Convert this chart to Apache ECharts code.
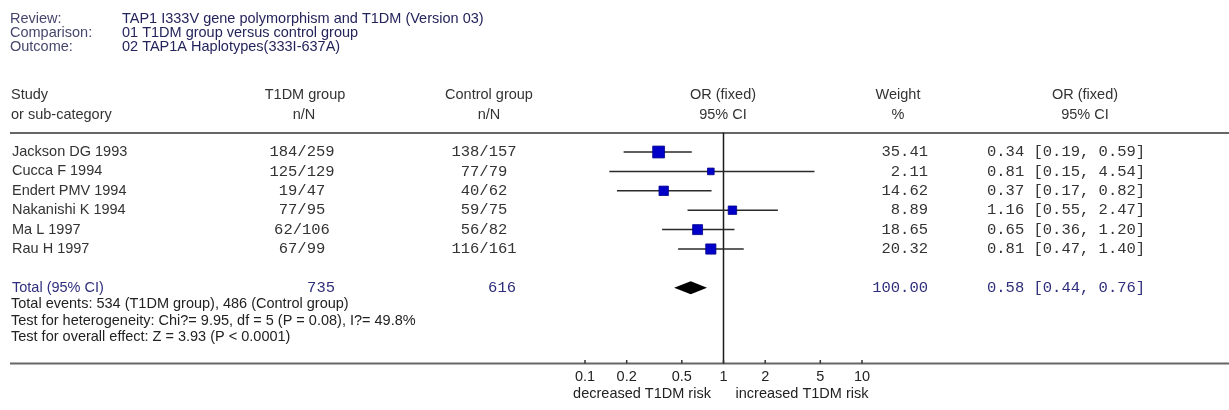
<!DOCTYPE html>
<html>
<head>
<meta charset="utf-8">
<script src="https://cdn.jsdelivr.net/npm/echarts@6/dist/echarts.min.js"></script>
<style>
  html, body { margin: 0; padding: 0; background: #fff; }
  #chart { width: 1229px; height: 410px; }
</style>
</head>
<body>
<div id="chart"></div>
<script>
// Study-level data
const studies = ['Jackson DG 1993', 'Cucca F 1994', 'Endert PMV 1994', 'Nakanishi K 1994', 'Ma L 1997', 'Rau H 1997'];
const t1dmNN = ['184/259', '125/129', '19/47', '77/95', '62/106', '67/99'];
const controlNN = ['138/157', '77/79', '40/62', '59/75', '56/82', '116/161'];
const weights = [35.41, 2.11, 14.62, 8.89, 18.65, 20.32];
const oddsRatio = [0.34, 0.81, 0.37, 1.16, 0.65, 0.81];
const ciLow = [0.19, 0.15, 0.17, 0.55, 0.36, 0.47];
const ciHigh = [0.59, 4.54, 0.82, 2.47, 1.20, 1.40];

// Pooled (fixed effect) result
const pooledOR = 0.58;
const pooledLow = 0.44;
const pooledHigh = 0.76;
const totalT1DM = 735;
const totalControl = 616;
const totalWeight = 100;

// Log-axis tick labels
const axisTicks = [0.1, 0.2, 0.5, 1, 2, 5, 10];

const SANS = '"Liberation Sans", Arial, sans-serif';
const MONO = '"Liberation Mono", "Courier New", monospace';
const SANS_SIZE = 14.5;
const MONO_SIZE = 15.5;
const TEXT = '#333';
const NAVY = '#2e2e7c';

const TOTAL_ROW = 7;
const Y_MIN = -1;
const Y_MAX = 10.9;

function txt(x, y, text, align, family, size, fill) {
  return {
    type: 'text',
    style: {
      text: text, x: x, y: y, align: align, verticalAlign: 'middle',
      fontFamily: family, fontSize: size, fill: fill
    }
  };
}

function fmtCI(or, lo, hi) {
  return or.toFixed(2) + ' [' + lo.toFixed(2) + ', ' + hi.toFixed(2) + ']';
}

const chart = echarts.init(document.getElementById('chart'), null, { renderer: 'canvas' });

const option = {
  animation: false,
  backgroundColor: '#fff',
  grid: { left: 585, width: 277, top: 132.6, height: 230.9 },
  xAxis: { type: 'log', logBase: 10, min: 0.1, max: 10, show: false },
  yAxis: { type: 'value', min: Y_MIN, max: Y_MAX, inverse: true, show: false },
  series: [
    // table text for each study row
    {
      type: 'custom',
      data: studies.map((s, i) => [1, i]),
      encode: { x: 0, y: 1 },
      silent: true,
      renderItem: function (params, api) {
        const i = params.dataIndex;
        const y = api.coord([1, api.value(1)])[1];
        return {
          type: 'group',
          children: [
            txt(12, y, studies[i], 'left', SANS, SANS_SIZE, TEXT),
            txt(302, y, t1dmNN[i], 'center', MONO, MONO_SIZE, TEXT),
            txt(484, y, controlNN[i], 'center', MONO, MONO_SIZE, TEXT),
            txt(928, y, weights[i].toFixed(2), 'right', MONO, MONO_SIZE, TEXT),
            txt(987, y, fmtCI(oddsRatio[i], ciLow[i], ciHigh[i]), 'left', MONO, MONO_SIZE, TEXT)
          ]
        };
      }
    },
    // total row text
    {
      type: 'custom',
      data: [[1, TOTAL_ROW]],
      encode: { x: 0, y: 1 },
      silent: true,
      renderItem: function (params, api) {
        const y = api.coord([1, api.value(1)])[1];
        return {
          type: 'group',
          children: [
            txt(12, y, 'Total (95% CI)', 'left', SANS, SANS_SIZE, NAVY),
            txt(335, y, String(totalT1DM), 'right', MONO, MONO_SIZE, NAVY),
            txt(516, y, String(totalControl), 'right', MONO, MONO_SIZE, NAVY),
            txt(928, y, totalWeight.toFixed(2), 'right', MONO, MONO_SIZE, NAVY),
            txt(987, y, fmtCI(pooledOR, pooledLow, pooledHigh), 'left', MONO, MONO_SIZE, NAVY)
          ]
        };
      }
    },
    // line of no effect
    {
      type: 'custom',
      data: [[1, Y_MIN, Y_MAX]],
      encode: { x: 0, y: [1, 2] },
      silent: true,
      renderItem: function (params, api) {
        const a = api.coord([api.value(0), api.value(1)]);
        const b = api.coord([api.value(0), api.value(2)]);
        return {
          type: 'line',
          shape: { x1: a[0], y1: a[1], x2: b[0], y2: b[1] },
          style: { stroke: '#1a1a1a', lineWidth: 1.5 }
        };
      }
    },
    // confidence intervals and weighted squares
    {
      type: 'custom',
      data: studies.map((s, i) => [oddsRatio[i], ciLow[i], ciHigh[i], i, weights[i]]),
      encode: { x: [0, 1, 2], y: 3 },
      silent: true,
      renderItem: function (params, api) {
        const row = api.value(3);
        const lo = api.coord([api.value(1), row]);
        const hi = api.coord([api.value(2), row]);
        const c = api.coord([api.value(0), row]);
        const size = 5 + 1.15 * Math.sqrt(api.value(4));
        return {
          type: 'group',
          children: [
            {
              type: 'line',
              shape: { x1: lo[0], y1: lo[1], x2: hi[0], y2: hi[1] },
              style: { stroke: '#2a2a2a', lineWidth: 1.5 }
            },
            {
              type: 'rect',
              shape: { x: c[0] - size / 2, y: c[1] - size / 2, width: size, height: size },
              style: { fill: '#0000c8', stroke: '#00008a', lineWidth: 0.8 }
            }
          ]
        };
      }
    },
    // pooled estimate diamond
    {
      type: 'custom',
      data: [[pooledOR, pooledLow, pooledHigh, TOTAL_ROW]],
      encode: { x: [0, 1, 2], y: 3 },
      silent: true,
      renderItem: function (params, api) {
        const row = api.value(3);
        const c = api.coord([api.value(0), row]);
        const lo = api.coord([api.value(1), row]);
        const hi = api.coord([api.value(2), row]);
        const h = 6.5;
        return {
          type: 'polygon',
          shape: { points: [[lo[0], c[1]], [c[0], c[1] - h], [hi[0], c[1]], [c[0], c[1] + h]] },
          style: { fill: '#000' }
        };
      }
    },
    // axis ticks and labels
    {
      type: 'custom',
      data: axisTicks.map(t => [t, Y_MAX]),
      encode: { x: 0, y: 1 },
      silent: true,
      renderItem: function (params, api) {
        const p = api.coord([api.value(0), api.value(1)]);
        return {
          type: 'group',
          children: [
            {
              type: 'line',
              shape: { x1: p[0], y1: p[1] - 3.5, x2: p[0], y2: p[1] },
              style: { stroke: '#333', lineWidth: 1.5 }
            },
            txt(p[0], p[1] + 13, String(axisTicks[params.dataIndex]), 'center', SANS, SANS_SIZE, '#222')
          ]
        };
      }
    }
  ],
  graphic: [
    // header block
    { type: 'text', style: { text: 'Review:', x: 10, y: 19, verticalAlign: 'middle', fontFamily: SANS, fontSize: SANS_SIZE, fill: '#47476e' } },
    { type: 'text', style: { text: 'Comparison:', x: 10, y: 33, verticalAlign: 'middle', fontFamily: SANS, fontSize: SANS_SIZE, fill: '#47476e' } },
    { type: 'text', style: { text: 'Outcome:', x: 10, y: 47, verticalAlign: 'middle', fontFamily: SANS, fontSize: SANS_SIZE, fill: '#47476e' } },
    { type: 'text', style: { text: 'TAP1 I333V gene polymorphism and T1DM (Version 03)', x: 122, y: 19, verticalAlign: 'middle', fontFamily: SANS, fontSize: SANS_SIZE, fill: '#24245c' } },
    { type: 'text', style: { text: '01 T1DM group versus control group', x: 122, y: 33, verticalAlign: 'middle', fontFamily: SANS, fontSize: SANS_SIZE, fill: '#24245c' } },
    { type: 'text', style: { text: '02 TAP1A Haplotypes(333I-637A)', x: 122, y: 47, verticalAlign: 'middle', fontFamily: SANS, fontSize: SANS_SIZE, fill: '#24245c' } },

    // column headings
    { type: 'text', style: { text: 'Study', x: 11, y: 95, verticalAlign: 'middle', fontFamily: SANS, fontSize: SANS_SIZE, fill: TEXT } },
    { type: 'text', style: { text: 'or sub-category', x: 11, y: 115, verticalAlign: 'middle', fontFamily: SANS, fontSize: SANS_SIZE, fill: TEXT } },
    { type: 'text', style: { text: 'T1DM group', x: 305, y: 95, align: 'center', verticalAlign: 'middle', fontFamily: SANS, fontSize: SANS_SIZE, fill: TEXT } },
    { type: 'text', style: { text: 'n/N', x: 304, y: 115, align: 'center', verticalAlign: 'middle', fontFamily: SANS, fontSize: SANS_SIZE, fill: TEXT } },
    { type: 'text', style: { text: 'Control group', x: 489, y: 95, align: 'center', verticalAlign: 'middle', fontFamily: SANS, fontSize: SANS_SIZE, fill: TEXT } },
    { type: 'text', style: { text: 'n/N', x: 489, y: 115, align: 'center', verticalAlign: 'middle', fontFamily: SANS, fontSize: SANS_SIZE, fill: TEXT } },
    { type: 'text', style: { text: 'OR (fixed)', x: 723, y: 95, align: 'center', verticalAlign: 'middle', fontFamily: SANS, fontSize: SANS_SIZE, fill: TEXT } },
    { type: 'text', style: { text: '95% CI', x: 723, y: 115, align: 'center', verticalAlign: 'middle', fontFamily: SANS, fontSize: SANS_SIZE, fill: TEXT } },
    { type: 'text', style: { text: 'Weight', x: 898, y: 95, align: 'center', verticalAlign: 'middle', fontFamily: SANS, fontSize: SANS_SIZE, fill: TEXT } },
    { type: 'text', style: { text: '%', x: 898, y: 115, align: 'center', verticalAlign: 'middle', fontFamily: SANS, fontSize: SANS_SIZE, fill: TEXT } },
    { type: 'text', style: { text: 'OR (fixed)', x: 1085, y: 95, align: 'center', verticalAlign: 'middle', fontFamily: SANS, fontSize: SANS_SIZE, fill: TEXT } },
    { type: 'text', style: { text: '95% CI', x: 1085, y: 115, align: 'center', verticalAlign: 'middle', fontFamily: SANS, fontSize: SANS_SIZE, fill: TEXT } },

    // table rules
    { type: 'line', shape: { x1: 10, y1: 133, x2: 1229, y2: 133 }, style: { stroke: '#666', lineWidth: 2 } },
    { type: 'line', shape: { x1: 10, y1: 363.5, x2: 1229, y2: 363.5 }, style: { stroke: '#666', lineWidth: 2 } },

    // summary statistics
    { type: 'text', style: { text: 'Total events: 534 (T1DM group), 486 (Control group)', x: 11, y: 304, verticalAlign: 'middle', fontFamily: SANS, fontSize: SANS_SIZE, fill: '#222' } },
    { type: 'text', style: { text: 'Test for heterogeneity: Chi?= 9.95, df = 5 (P = 0.08), I?= 49.8%', x: 11, y: 320.5, verticalAlign: 'middle', fontFamily: SANS, fontSize: SANS_SIZE, fill: '#222' } },
    { type: 'text', style: { text: 'Test for overall effect: Z = 3.93 (P < 0.0001)', x: 11, y: 337, verticalAlign: 'middle', fontFamily: SANS, fontSize: SANS_SIZE, fill: '#222' } },

    // direction labels under the axis
    { type: 'text', style: { text: 'decreased T1DM risk', x: 642, y: 394, align: 'center', verticalAlign: 'middle', fontFamily: SANS, fontSize: SANS_SIZE, fill: '#222' } },
    { type: 'text', style: { text: 'increased T1DM risk', x: 802, y: 394, align: 'center', verticalAlign: 'middle', fontFamily: SANS, fontSize: SANS_SIZE, fill: '#222' } }
  ]
};

chart.setOption(option);
</script>
</body>
</html>
